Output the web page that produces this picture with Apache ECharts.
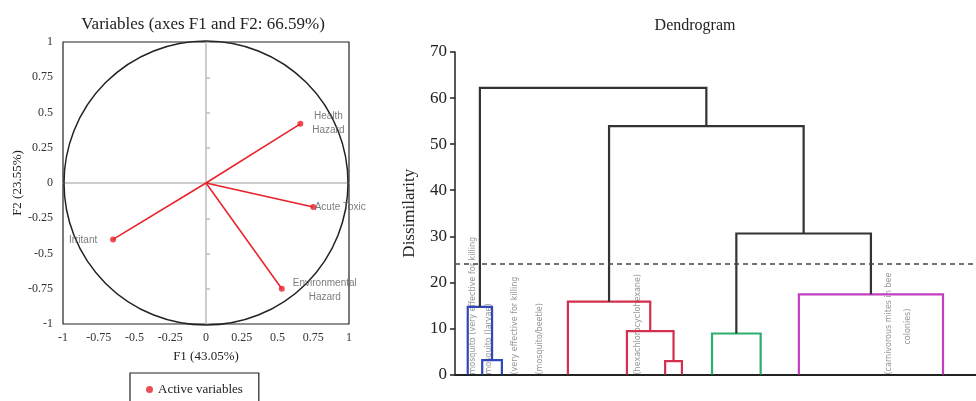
<!DOCTYPE html>
<html>
<head>
<meta charset="utf-8">
<script src="https://cdn.jsdelivr.net/npm/echarts@6/dist/echarts.min.js"></script>
<style>html,body{margin:0;padding:0;background:#fff}#c{width:976px;height:401px}</style>
</head>
<body>
<div id="c"></div>
<script>
// ---- Correlation circle data ----
const varNames = ['Health\nHazard', 'Acute Toxic', 'Irritant', 'Environmental\nHazard'];
const f1 = [0.66, 0.75, -0.65, 0.53];
const f2 = [0.42, -0.17, -0.40, -0.75];
const circleTicks = [-1, -0.75, -0.5, -0.25, 0, 0.25, 0.5, 0.75, 1];

// ---- Dendrogram data ----
// leaf (cluster-end) positions along the leaf order
const leafPos = [2.2, 4.7, 8.1, 19.5, 29.7, 36.3, 39.2, 44.4, 52.8, 59.4, 84.3];
// merges: node ids 0..10 are leaves, merges get ids 11..20 in order
const mergeA = [1, 0, 5, 4, 3, 7, 9, 16, 15, 12];
const mergeB = [2, 11, 6, 13, 14, 8, 10, 17, 18, 19];
const mergeH = [3.1, 14.7, 2.9, 9.4, 15.8, 8.9, 17.4, 30.6, 53.9, 62.2];
const mergeGroup = [0, 0, 1, 1, 1, 2, 3, -1, -1, -1];
const cutHeight = 24;
const dissTicks = [0, 10, 20, 30, 40, 50, 60, 70];
// the few leaf-label fragments that are legible
const leafLabelText = ['mosquito (very effective for killing', 'mosquito (larvae)', '(very effective for killing', '(mosquito/beetle)', '(hexachlorocyclohexane)', '(carnivorous mites in bee', 'colonies)'];
const leafLabelPos = [3.1, 5.9, 10.4, 14.7, 31.6, 75.0, 78.3];
const leafLabelH = [0, 0, 0, 0, 0, 0, 6.5];

const groupColors = ['#3346b8', '#d2304e', '#2aae6c', '#c23fc0'];
const black = '#333';
const serif = 'Liberation Serif';

// build node x/h
const nodeX = leafPos.slice();
const nodeH = leafPos.map(() => 0);
const dendroData = [];
for (let i = 0; i < mergeA.length; i++) {
  const a = mergeA[i], b = mergeB[i];
  dendroData.push([nodeX[a], nodeH[a], nodeX[b], nodeH[b], mergeH[i], mergeGroup[i]]);
  nodeX.push((nodeX[a] + nodeX[b]) / 2);
  nodeH.push(mergeH[i]);
}

const labelOffsets = [[28, -1], [27, 0], [-30, 1], [43, 1]];

const chart = echarts.init(document.getElementById('c'));
chart.setOption({
  animation: false,
  backgroundColor: '#fff',
  title: [
    {text: 'Variables (axes F1 and F2: 66.59%)', left: 198, top: 11, textAlign: 'center',
     textStyle: {fontFamily: serif, fontSize: 17, fontWeight: 'normal', color: '#222'}},
    {text: 'Dendrogram', left: 690, top: 13, textAlign: 'center',
     textStyle: {fontFamily: serif, fontSize: 16, fontWeight: 'normal', color: '#222'}}
  ],
  legend: {
    data: ['Active variables'], left: 130, top: 373, orient: 'horizontal',
    borderColor: '#222', borderWidth: 1.2, padding: [10, 16, 14, 16],
    icon: 'circle', itemWidth: 7, itemHeight: 7, itemGap: 5,
    textStyle: {fontFamily: serif, fontSize: 13, color: '#222'}
  },
  grid: [
    {left: 63, top: 42, width: 286, height: 282, show: true, borderColor: '#222', borderWidth: 1.2, backgroundColor: 'transparent'},
    {left: 455, top: 52, right: 0, bottom: 26.5}
  ],
  xAxis: [
    {gridIndex: 0, type: 'value', min: -1, max: 1, interval: 0.25,
     axisLine: {show: false, onZero: false}, axisTick: {show: false}, splitLine: {show: false},
     axisLabel: {fontFamily: serif, fontSize: 12, color: '#333', margin: 8,
       formatter: v => String(circleTicks.reduce((p, t) => Math.abs(t - v) < Math.abs(p - v) ? t : p))},
     name: 'F1 (43.05%)', nameLocation: 'middle', nameGap: 26,
     nameTextStyle: {fontFamily: serif, fontSize: 13, color: '#222'}},
    {gridIndex: 0, type: 'value', min: -1, max: 1, interval: 0.25, position: 'bottom',
     axisLine: {show: true, onZero: true, lineStyle: {color: '#bdbdbd', width: 1.5}},
     axisTick: {show: false}, axisLabel: {show: false}, splitLine: {show: false}},
    {gridIndex: 1, type: 'value', min: 0, max: 90,
     axisLine: {show: true, lineStyle: {color: '#222', width: 2}},
     axisTick: {show: false}, axisLabel: {show: false}, splitLine: {show: false}}
  ],
  yAxis: [
    {gridIndex: 0, type: 'value', min: -1, max: 1, interval: 0.25,
     axisLine: {show: false, onZero: false}, axisTick: {show: false}, splitLine: {show: false},
     axisLabel: {fontFamily: serif, fontSize: 12, color: '#333', margin: 10,
       formatter: v => String(circleTicks.reduce((p, t) => Math.abs(t - v) < Math.abs(p - v) ? t : p))},
     name: 'F2 (23.55%)', nameLocation: 'middle', nameGap: 36,
     nameTextStyle: {fontFamily: serif, fontSize: 13, color: '#222'}},
    {gridIndex: 0, type: 'value', min: -1, max: 1, interval: 0.25, position: 'left',
     axisLine: {show: true, onZero: true, lineStyle: {color: '#bdbdbd', width: 1.5}},
     axisTick: {show: true, inside: true, length: 4, lineStyle: {color: '#bdbdbd', width: 1.5}},
     axisLabel: {show: false}, splitLine: {show: false}},
    {gridIndex: 1, type: 'value', min: 0, max: 70, interval: 10,
     axisLine: {show: true, lineStyle: {color: '#222', width: 1.5}},
     axisTick: {show: true, length: 5, lineStyle: {color: '#222', width: 1.5}},
     axisLabel: {fontFamily: serif, fontSize: 17, color: '#222', margin: 8},
     splitLine: {show: false},
     name: 'Dissimilarity', nameLocation: 'middle', nameGap: 37,
     nameTextStyle: {fontFamily: serif, fontSize: 17, color: '#222'}}
  ],
  series: [
    {type: 'custom', xAxisIndex: 0, yAxisIndex: 0, data: [[0, 0]], silent: true, z: 2,
     renderItem: (params, api) => {
       const c = api.coord([0, 0]);
       const rx = api.coord([1, 0])[0] - c[0];
       const ry = c[1] - api.coord([0, 1])[1];
       return {type: 'circle', shape: {cx: c[0], cy: c[1], r: (rx + ry) / 2},
         style: {fill: 'none', stroke: '#222', lineWidth: 1.5}};
     }},
    {type: 'custom', xAxisIndex: 0, yAxisIndex: 0, silent: true, z: 3,
     data: f1.map((x, i) => [x, f2[i]]),
     renderItem: (params, api) => {
       const o = api.coord([0, 0]);
       const p = api.coord([api.value(0), api.value(1)]);
       return {type: 'line', shape: {x1: o[0], y1: o[1], x2: p[0], y2: p[1]},
         style: {stroke: '#e8202a', lineWidth: 1.5}};
     }},
    {name: 'Active variables', type: 'scatter', xAxisIndex: 0, yAxisIndex: 0, z: 4,
     symbolSize: 6, itemStyle: {color: '#e8202a'},
     data: f1.map((x, i) => ({value: [x, f2[i]], name: varNames[i],
       label: {show: true, position: 'inside', offset: labelOffsets[i], align: 'center', verticalAlign: 'middle',
         formatter: '{b}', fontFamily: 'Liberation Sans', fontSize: 10, color: '#5a5a5a', lineHeight: 14}}))},
    {type: 'custom', xAxisIndex: 2, yAxisIndex: 2, silent: true, z: 3,
     data: dendroData,
     renderItem: (params, api) => {
       const xa = api.value(0), ha = api.value(1), xb = api.value(2), hb = api.value(3), H = api.value(4), g = api.value(5);
       const pts = [api.coord([xa, ha]), api.coord([xa, H]), api.coord([xb, H]), api.coord([xb, hb])];
       return {type: 'polyline', shape: {points: pts},
         style: {fill: 'none', stroke: g >= 0 ? groupColors[g] : black, lineWidth: 2.2}};
     },
     markLine: {silent: true, symbol: 'none', label: {show: false},
       lineStyle: {color: '#444', type: [5, 4], width: 1.5},
       data: [{yAxis: cutHeight}]}},
    {type: 'scatter', xAxisIndex: 2, yAxisIndex: 2, silent: true, symbolSize: 0, z: 1,
     data: leafLabelPos.map((x, i) => ({value: [x, leafLabelH[i]], name: leafLabelText[i]})),
     label: {show: true, position: 'inside', rotate: 90, align: 'left', verticalAlign: 'middle',
       formatter: '{b}', fontFamily: 'DejaVu Sans', fontSize: 8, color: '#7a7a7a'}}
  ]
});
</script>
</body>
</html>
